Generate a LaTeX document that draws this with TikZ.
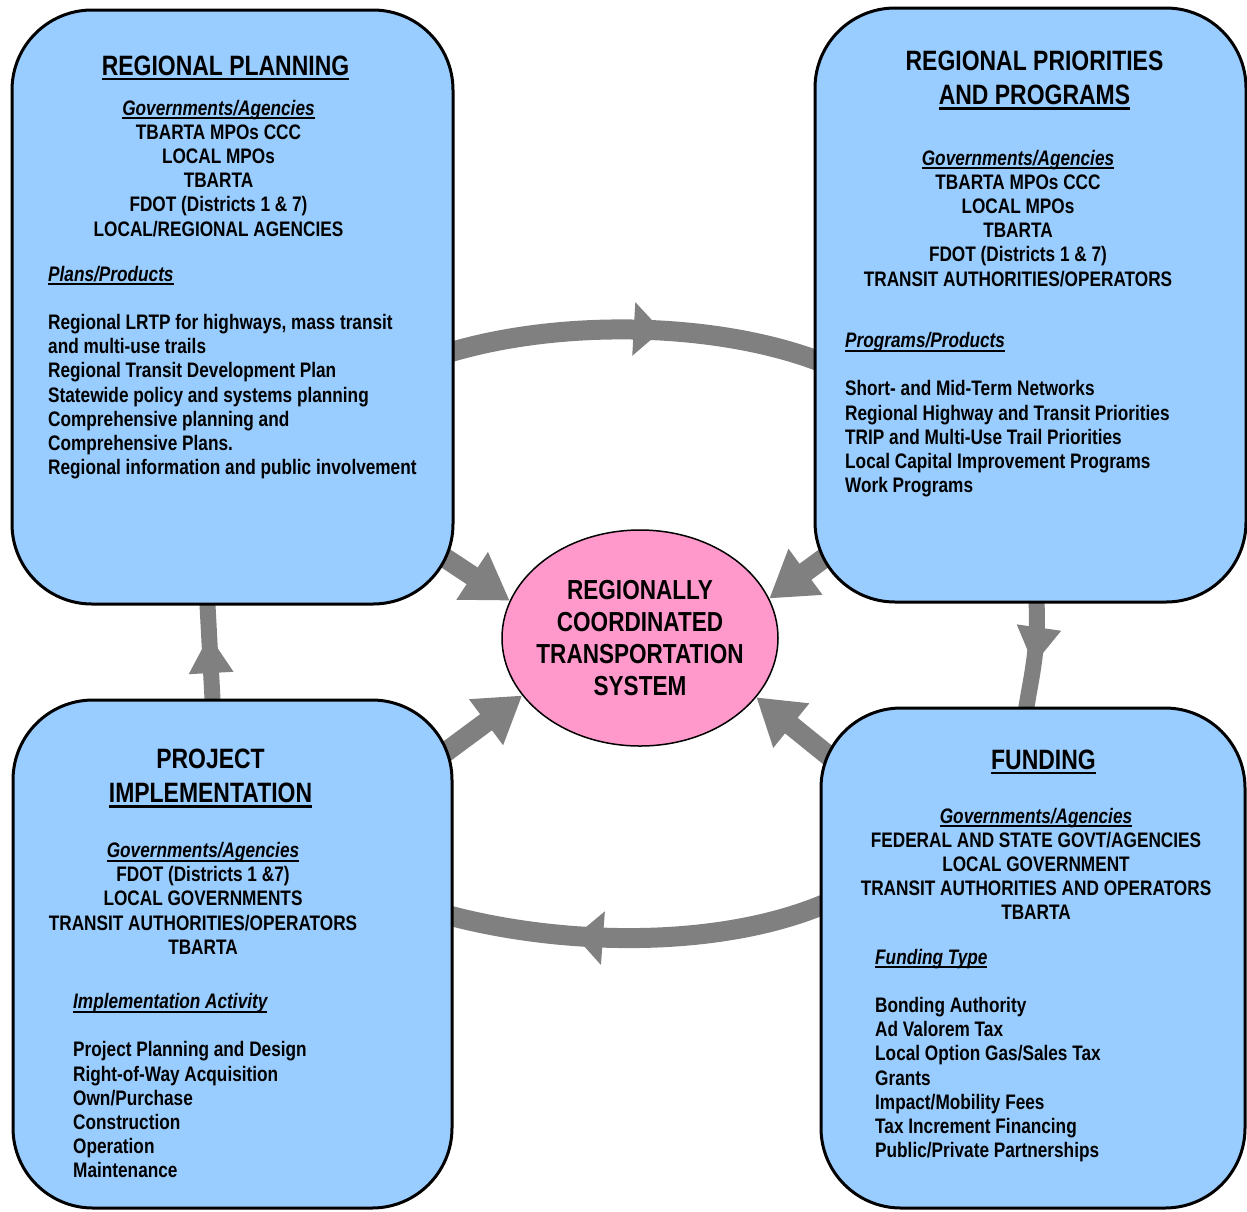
\documentclass[tikz,border=0pt]{standalone}
\usepackage{fontspec}
\setmainfont{Liberation Sans}[FakeStretch=0.82]
\usetikzlibrary{arrows.meta, backgrounds, decorations.markings, shapes.geometric}

\definecolor{boxblue}{RGB}{153,204,255}
\definecolor{hubpink}{RGB}{255,153,204}
\definecolor{flowgray}{RGB}{128,128,128}

\newcommand\uln[1]{\mbox{\setbox0\hbox{#1}\rlap{\vrule width\wd0 height -0.1em depth 0.19em}\box0}}

\tikzset{
  stage/.style={draw, line width=3pt, fill=boxblue, rounded corners=80pt, inner sep=0pt},
  hub/.style={ellipse, draw, line width=1.5pt, fill=hubpink, minimum width=276pt,
    minimum height=216pt, inner xsep=-10pt, inner ysep=0pt, align=center,
    font=\fontsize{27.5}{32.3}\selectfont\bfseries},
  head/.style={font=\fontsize{28}{34.5}\selectfont\bfseries, inner sep=0pt, align=center, anchor=base},
  body/.style={font=\fontsize{21}{24.2}\selectfont\bfseries, inner sep=0pt},
  ring/.style={flowgray, line width=20pt, decoration={markings,
    mark=at position #1 with {\arrow{Triangle[length=28pt,width=52pt]}}}, postaction={decorate}},
  lift/.style={flowgray, line width=16pt, decoration={markings,
    mark=at position #1 with {\arrow{Triangle[length=38pt,width=42pt]}}}, postaction={decorate}},
  feed/.style={flowgray, line width=20pt, -{Triangle[length=45pt,width=54pt]}}
}

\begin{document}
\begin{tikzpicture}[x=1pt,y=-1pt]
  \useasboundingbox (0,0) rectangle (1247,1211);

  \node[stage, minimum width=441pt, minimum height=594pt] (plan) at (232.5,307) {};
  \node[stage, minimum width=431pt, minimum height=594pt] (prio) at (1030.5,305) {};
  \node[stage, minimum width=439pt, minimum height=508pt] (impl) at (232.5,954) {};
  \node[stage, minimum width=424pt, minimum height=500pt] (fund) at (1033,958) {};
  \node[hub] (sys) at (640,638) {REGIONALLY\\ COORDINATED\\ TRANSPORTATION\\ SYSTEM};

  \coordinate (plan-out) at (430,548);
  \coordinate (prio-out) at (835,550);
  \coordinate (impl-out) at (435,760);
  \coordinate (fund-out) at (840,765);

  \begin{scope}[on background layer]
    \draw[ring=0.57] ([xshift=-10pt,yshift=-47pt]plan.east)
      .. controls (560,318) and (720,322) .. ([xshift=10pt,yshift=-58pt]prio.west);
    \draw[ring=0.66] ([xshift=10pt,yshift=56pt]fund.west)
      .. controls (720,950) and (560,946) .. ([xshift=-10pt,yshift=40pt]impl.east);
    \draw[lift=0.65] ([xshift=-19.5pt,yshift=-10pt]impl.north) -- ([xshift=-25.5pt,yshift=10pt]plan.south);
    \draw[lift=0.58] ([xshift=5.5pt,yshift=10pt]prio.south)
      .. controls (1040,650) and (1030,680) .. ([xshift=-8pt,yshift=-10pt]fund.north);
    \draw[feed] (plan-out) -- (sys.164);
    \draw[feed] (prio-out) -- (sys.17);
    \draw[feed] (impl-out) -- (sys.206);
    \draw[feed] (fund-out) -- (sys.333);
  \end{scope}

  \node[head] (plan-title) at (225.5,75) {\uln{REGIONAL PLANNING}};
  \node[body, align=center, anchor=base] (plan-gov) at (218.5,236)
    {\uln{\itshape Governments/Agencies}\\ TBARTA MPOs CCC\\ LOCAL MPOs\\ TBARTA\\
     FDOT (Districts 1 \& 7)\\ LOCAL/REGIONAL AGENCIES};
  \node[body, align=left, anchor=base west] (plan-list) at (48,474.6)
    {\uln{\itshape Plans/Products}\\[24.2pt] Regional LRTP for highways, mass transit\\
     and multi-use trails\\ Regional Transit Development Plan\\
     Statewide policy and systems planning\\ Comprehensive planning and\\
     Comprehensive Plans.\\ Regional information and public involvement};

  \node[head] (prio-title) at (1034.5,104.5) {REGIONAL PRIORITIES\\ \uln{AND PROGRAMS}};
  \node[body, align=center, anchor=base] (prio-gov) at (1018,286)
    {\uln{\itshape Governments/Agencies}\\ TBARTA MPOs CCC\\ LOCAL MPOs\\ TBARTA\\
     FDOT (Districts 1 \& 7)\\ TRANSIT AUTHORITIES/OPERATORS};
  \node[body, align=left, anchor=base west] (prio-list) at (845,492.7)
    {\uln{\itshape Programs/Products}\\[24.2pt] Short- and Mid-Term Networks\\
     Regional Highway and Transit Priorities\\ TRIP and Multi-Use Trail Priorities\\
     Local Capital Improvement Programs\\ Work Programs};

  \node[head] (impl-title) at (210.5,802.5) {PROJECT\\ \uln{IMPLEMENTATION}};
  \node[body, align=center, anchor=base] (impl-gov) at (203,954.3)
    {\uln{\itshape Governments/Agencies}\\ FDOT (Districts 1 \&7)\\ LOCAL GOVERNMENTS\\
     TRANSIT AUTHORITIES/OPERATORS\\ TBARTA};
  \node[body, align=left, anchor=base west] (impl-list) at (73,1177.9)
    {\uln{\itshape Implementation Activity}\\[24.2pt] Project Planning and Design\\
     Right-of-Way Acquisition\\ Own/Purchase\\ Construction\\ Operation\\ Maintenance};

  \node[head] (fund-title) at (1043.5,769) {\uln{FUNDING}};
  \node[body, align=center, anchor=base] (fund-gov) at (1036,919.8)
    {\uln{\itshape Governments/Agencies}\\ FEDERAL AND STATE GOVT/AGENCIES\\
     LOCAL GOVERNMENT\\ TRANSIT AUTHORITIES AND OPERATORS\\ TBARTA};
  \node[body, align=left, anchor=base west] (fund-list) at (875,1157.6)
    {\uln{\itshape Funding Type}\\[24.2pt] Bonding Authority\\ Ad Valorem Tax\\
     Local Option Gas/Sales Tax\\ Grants\\ Impact/Mobility Fees\\
     Tax Increment Financing\\ Public/Private Partnerships};
\end{tikzpicture}
\end{document}
